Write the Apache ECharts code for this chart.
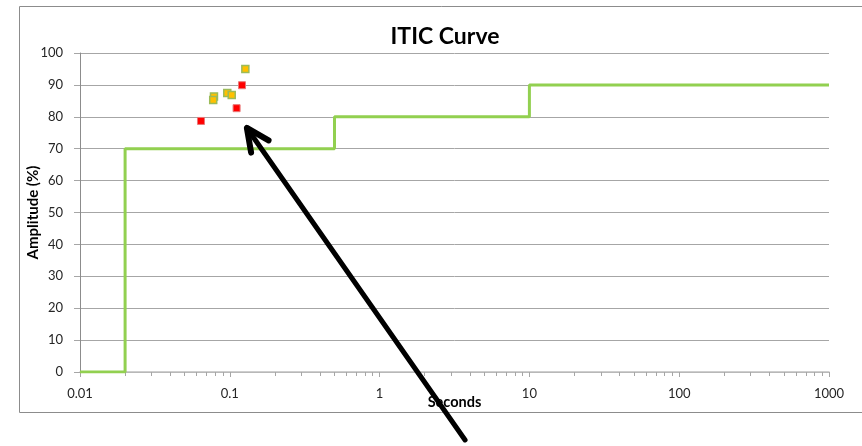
<!DOCTYPE html>
<html>
<head>
<meta charset="utf-8">
<script src="https://cdn.jsdelivr.net/npm/echarts@6/dist/echarts.min.js"></script>
<style>
  html, body { margin: 0; padding: 0; background: #ffffff; }
  #chart { width: 862px; height: 446px; }
</style>
</head>
<body>
<div id="chart"></div>
<script>
// ITIC tolerance envelope (step curve)
const curveSeconds   = [0.01, 0.02, 0.02, 0.5, 0.5, 10, 10, 1000];
const curveAmplitude = [0,    0,    70,   70,  80,  80, 90, 90];

// Recorded sag events
const yellowSeconds   = [0.127, 0.0784, 0.0775, 0.0962, 0.103];
const yellowAmplitude = [95.0,  86.4,   85.3,   87.5,   86.8];
const redSeconds      = [0.1206, 0.111, 0.0642];
const redAmplitude    = [89.9,   82.7,  78.7];

// Axis tick labels
const xTickValues = [0.01, 0.1, 1, 10, 100, 1000];
const xTickLabels = ['0.01', '0.1', '1', '10', '100', '1000'];
const yTickLabels = ['0', '10', '20', '30', '40', '50', '60', '70', '80', '90', '100'];

// Minor log ticks (2..9 within each decade)
const xMinorValues = [];
xTickValues.slice(0, -1).forEach(d => {
  for (let k = 2; k <= 9; k++) xMinorValues.push(+(d * k).toPrecision(3));
});

// Callout arrow, in data units
const arrowTip  = [0.130, 76.5];
const arrowTail = [3.72, -21.3];

const zip = (xs, ys) => xs.map((x, i) => [x, ys[i]]);
const FONT = 'Lato, "Open Sans", sans-serif';

const chart = echarts.init(document.getElementById('chart'), null, { renderer: 'canvas' });

const option = {
  animation: false,
  backgroundColor: '#ffffff',
  title: {
    text: 'ITIC Curve',
    left: 440,
    top: 20,
    textAlign: 'center',
    textStyle: { fontFamily: FONT, fontWeight: 'bold', fontSize: 23, color: '#000000' }
  },
  grid: { left: 80, right: 33, top: 53, bottom: 74, containLabel: false },
  xAxis: [
    {
      type: 'log',
      logBase: 10,
      min: 0.01,
      max: 1000,
      name: 'Seconds',
      nameLocation: 'middle',
      nameGap: 23,
      nameMoveOverlap: false,
      nameTextStyle: { fontFamily: FONT, fontWeight: 'bold', fontSize: 14.5, color: '#000000' },
      axisLine: { show: true, lineStyle: { color: '#bfbfbf', width: 1.5 } },
      axisTick: { show: true, inside: false, length: 5, lineStyle: { color: '#a6a6a6' },
                  customValues: xTickValues },
      axisLabel: {
        fontFamily: FONT, fontSize: 13, color: '#262626', margin: 15,
        customValues: xTickValues,
        formatter: v => {
          const i = xTickValues.findIndex(t => Math.abs(Math.log10(t) - Math.log10(v)) < 1e-6);
          return i >= 0 ? xTickLabels[i] : '';
        }
      },
      splitLine: { show: false },
      minorTick: { show: false },
      minorSplitLine: { show: false }
    },
    {
      type: 'log',
      logBase: 10,
      min: 0.01,
      max: 1000,
      position: 'bottom',
      axisLine: { show: false },
      axisTick: { show: true, inside: false, length: 4, lineStyle: { color: '#a6a6a6' },
                  customValues: xMinorValues },
      axisLabel: { show: false },
      splitLine: { show: false }
    }
  ],
  yAxis: {
    type: 'value',
    min: 0,
    max: 100,
    interval: 10,
    name: 'Amplitude (%)',
    nameLocation: 'middle',
    nameGap: 39,
    nameMoveOverlap: false,
    nameRotate: 90,
    nameTextStyle: { fontFamily: FONT, fontWeight: 'bold', fontSize: 15, color: '#000000' },
    axisLine: { show: true, lineStyle: { color: '#8c8c8c', width: 1 } },
    axisTick: { show: true, inside: false, length: 6, lineStyle: { color: '#a6a6a6' } },
    axisLabel: {
      fontFamily: FONT, fontSize: 13, color: '#262626', margin: 17,
      formatter: v => yTickLabels[Math.round(v / 10)]
    },
    splitLine: { show: true, lineStyle: { color: '#a6a6a6', width: 1 } }
  },
  series: [
    {
      name: 'ITIC',
      type: 'line',
      xAxisIndex: 0,
      data: zip(curveSeconds, curveAmplitude),
      showSymbol: false,
      symbol: 'none',
      lineStyle: { color: '#92d050', width: 3 },
      z: 3
    },
    {
      name: 'Events',
      type: 'scatter',
      xAxisIndex: 0,
      symbol: 'rect',
      symbolSize: 7,
      data: zip(yellowSeconds, yellowAmplitude),
      itemStyle: { color: '#ffc000', borderColor: '#9bbb59', borderWidth: 1.5, opacity: 1 },
      z: 4
    },
    {
      name: 'Events (red)',
      type: 'scatter',
      xAxisIndex: 0,
      symbol: 'rect',
      symbolSize: 7,
      data: zip(redSeconds, redAmplitude),
      itemStyle: { color: '#ff0000', borderColor: '#e87878', borderWidth: 1, opacity: 1 },
      z: 4
    }
  ]
};

chart.setOption(option);

// Outer frame and callout arrow
const tip  = chart.convertToPixel({ xAxisIndex: 0, yAxisIndex: 0 }, arrowTip);
const tail = chart.convertToPixel({ xAxisIndex: 0, yAxisIndex: 0 }, arrowTail);
const ang = Math.atan2(tail[1] - tip[1], tail[0] - tip[0]);
const headLen = 25, spread = 0.44;
const armA = [tip[0] + headLen * Math.cos(ang - spread), tip[1] + headLen * Math.sin(ang - spread)];
const armB = [tip[0] + headLen * Math.cos(ang + spread), tip[1] + headLen * Math.sin(ang + spread)];

chart.setOption({
  graphic: [
    {
      type: 'rect',
      silent: true,
      shape: { x: 19.5, y: 6.5, width: 900, height: 406 },
      style: { fill: 'none', stroke: '#8c8c8c', lineWidth: 1 },
      z: 0
    },
    {
      type: 'polyline',
      silent: true,
      shape: { points: [tail, tip] },
      style: { stroke: '#000000', lineWidth: 5, lineCap: 'round', fill: 'none' },
      z: 100
    },
    {
      type: 'polyline',
      silent: true,
      shape: { points: [armA, tip, armB] },
      style: { stroke: '#000000', lineWidth: 6, lineCap: 'round', lineJoin: 'round', fill: 'none' },
      z: 100
    }
  ]
});
</script>
</body>
</html>
